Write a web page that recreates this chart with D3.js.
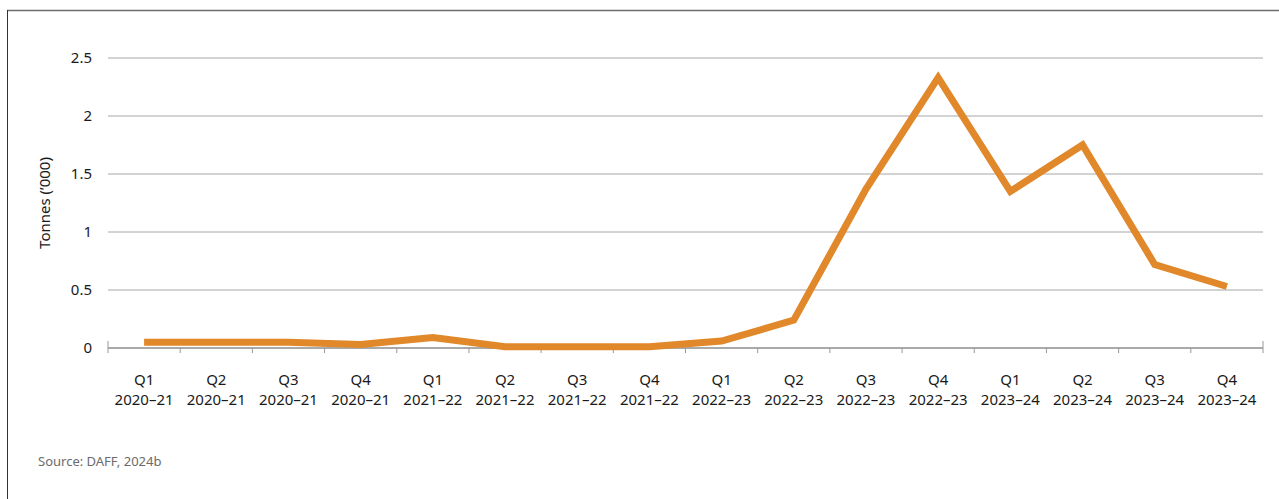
<!DOCTYPE html>
<html>
<head>
<meta charset="utf-8">
<script src="https://cdn.jsdelivr.net/npm/d3@7"></script>
<style>
  body { margin: 0; background: #fff; }
  text { font-family: "Noto Sans", "Open Sans", sans-serif; }
</style>
</head>
<body>
<div id="chart"></div>
<script>
// Data
const quarters = ["Q1", "Q2", "Q3", "Q4", "Q1", "Q2", "Q3", "Q4",
                  "Q1", "Q2", "Q3", "Q4", "Q1", "Q2", "Q3", "Q4"];
const years = ["2020–21", "2020–21", "2020–21", "2020–21",
               "2021–22", "2021–22", "2021–22", "2021–22",
               "2022–23", "2022–23", "2022–23", "2022–23",
               "2023–24", "2023–24", "2023–24", "2023–24"];
const tonnes = [0.05, 0.05, 0.05, 0.03, 0.09, 0.01, 0.01, 0.01,
                0.06, 0.24, 1.37, 2.33, 1.35, 1.75, 0.72, 0.53];
const yTicks = [0, 0.5, 1, 1.5, 2, 2.5];

const data = quarters.map((q, i) => ({ key: i, q: q, year: years[i], value: tonnes[i] }));

let width = 1279, height = 499;
let margin = { top: 58, bottom: 151, left: 108, right: 16 };

let svg = d3.select('#chart')
            .append('svg')
            .attr('width', width)
            .attr('height', height);

// frame (top and left edges only)
svg.append('line')
    .attr('x1', 7).attr('x2', width)
    .attr('y1', 10.5).attr('y2', 10.5)
    .attr('stroke', '#6d6d6d').attr('stroke-width', 1.5);
svg.append('line')
    .attr('x1', 7.5).attr('x2', 7.5)
    .attr('y1', 10).attr('y2', height)
    .attr('stroke', '#333').attr('stroke-width', 1);

// scales
let xScale = d3.scaleBand()
               .domain(data.map(d => d.key))
               .range([margin.left, width - margin.right]);

let yScale = d3.scaleLinear()
               .domain([0, 2.5])
               .range([348, 58]);

// gridlines
svg.append('g')
    .selectAll('line')
    .data(yTicks.filter(t => t > 0))
    .enter()
    .append('line')
    .attr('x1', margin.left)
    .attr('x2', width - margin.right)
    .attr('y1', d => yScale(d))
    .attr('y2', d => yScale(d))
    .attr('stroke', '#a6a6a6')
    .attr('stroke-width', 1);

// y tick labels
svg.append('g')
    .selectAll('text')
    .data(yTicks)
    .enter()
    .append('text')
    .attr('x', 92)
    .attr('y', d => yScale(d) + 5)
    .attr('text-anchor', 'end')
    .attr('font-size', 15)
    .attr('fill', '#1a1a1a')
    .text(d => d);

// x axis
let xAxis = svg.append('g')
    .attr('transform', `translate(0,${yScale(0)})`);

xAxis.append('line')
    .attr('x1', margin.left)
    .attr('x2', width - margin.right)
    .attr('stroke', '#555')
    .attr('stroke-width', 1.2);

let boundaries = d3.range(data.length + 1).map(i => margin.left + i * xScale.bandwidth());
xAxis.selectAll('.tick')
    .data(boundaries)
    .enter()
    .append('line')
    .attr('x1', d => d)
    .attr('x2', d => d)
    .attr('y1', (d, i) => (i === 0 || i === data.length) ? -7 : 0)
    .attr('y2', 5)
    .attr('stroke', '#999')
    .attr('stroke-width', 1);

let labels = svg.append('g')
    .selectAll('text')
    .data(data)
    .enter()
    .append('text')
    .attr('text-anchor', 'middle')
    .attr('font-size', 15)
    .attr('fill', '#1a1a1a');

labels.append('tspan')
    .attr('x', d => xScale(d.key) + xScale.bandwidth() / 2)
    .attr('y', 385)
    .text(d => d.q);
labels.append('tspan')
    .attr('x', d => xScale(d.key) + xScale.bandwidth() / 2)
    .attr('y', 405)
    .text(d => d.year);

// y-axis title
svg.append('text')
    .attr('transform', `translate(50,${yScale(1.25)}) rotate(-90)`)
    .attr('text-anchor', 'middle')
    .attr('font-size', 15)
    .attr('fill', '#1a1a1a')
    .text('Tonnes (’000)');

// line
let line = d3.line()
    .x(d => xScale(d.key) + xScale.bandwidth() / 2)
    .y(d => yScale(d.value));

svg.append('path')
    .datum(data)
    .attr('fill', 'none')
    .attr('stroke', '#e0882a')
    .attr('stroke-width', 7)
    .attr('stroke-linejoin', 'miter')
    .attr('d', line);

// source
svg.append('text')
    .attr('x', 38)
    .attr('y', 466)
    .attr('font-size', 13)
    .attr('fill', '#6b6b6b')
    .text('Source: DAFF, 2024b');
</script>
</body>
</html>
